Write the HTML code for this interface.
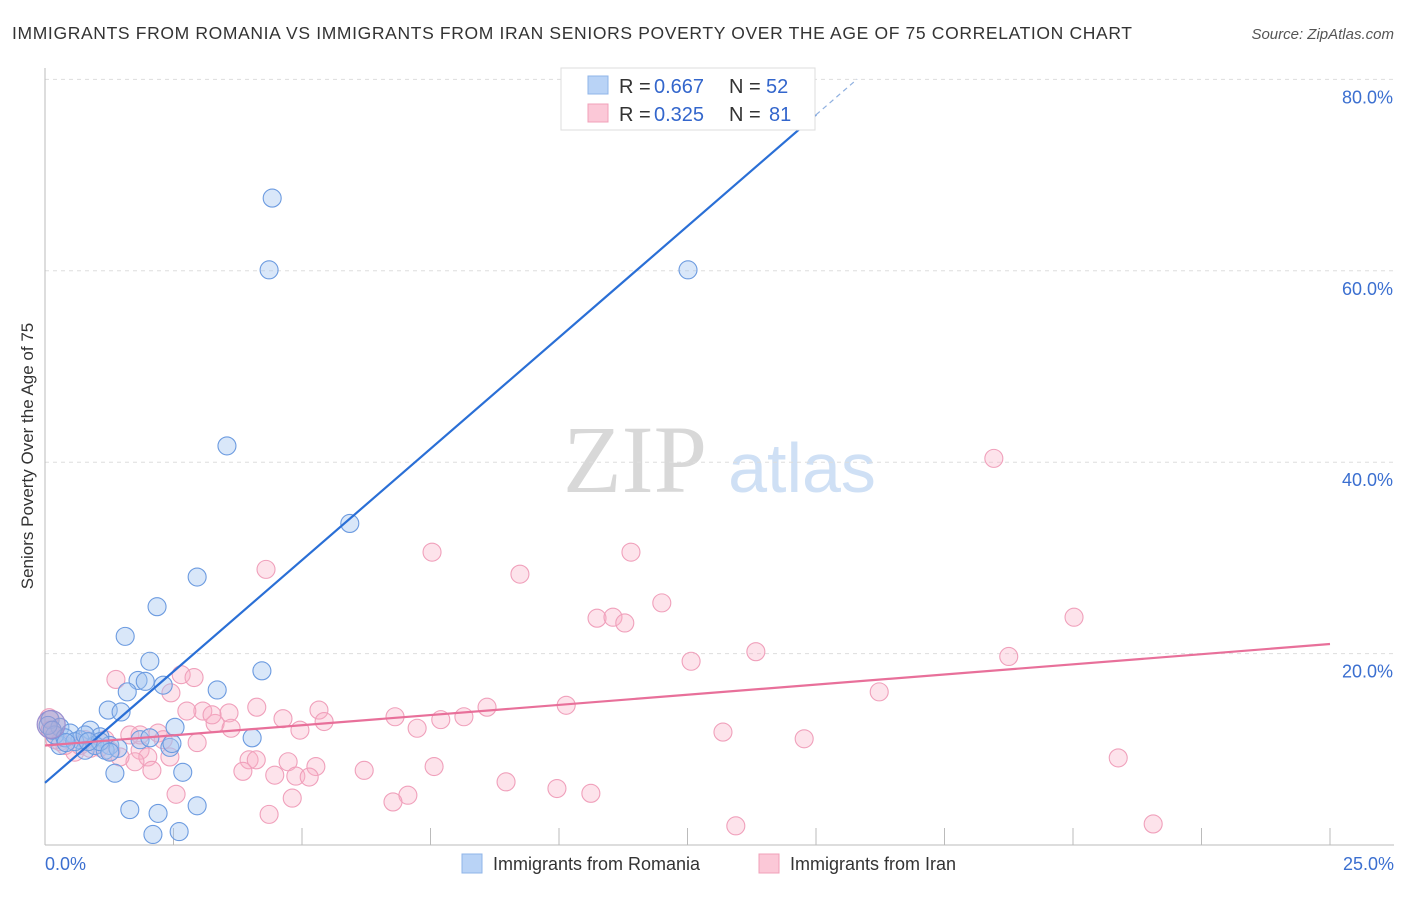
<!DOCTYPE html>
<html><head><meta charset="utf-8"><style>
body{margin:0;background:#fff;font-family:"Liberation Sans",sans-serif}
</style></head><body>
<svg width="1406" height="892" xmlns="http://www.w3.org/2000/svg" font-family="Liberation Sans, sans-serif">
<text x="12" y="39" font-size="17.5" fill="#333" textLength="1120" lengthAdjust="spacing">IMMIGRANTS FROM ROMANIA VS IMMIGRANTS FROM IRAN SENIORS POVERTY OVER THE AGE OF 75 CORRELATION CHART</text>
<text x="1394" y="39" font-size="15" fill="#555" font-style="italic" text-anchor="end">Source: ZipAtlas.com</text>
<text x="635" y="492" font-size="96" fill="#d8d8d8" font-family="Liberation Serif, serif" text-anchor="middle">ZIP</text>
<text x="802" y="492" font-size="70" fill="#cfe0f5" text-anchor="middle">atlas</text>
<g id="grid"></g><g id="axes"></g><g id="pts"></g><g id="lines"></g>
<text transform="translate(33,456) rotate(-90)" font-size="17" fill="#333" text-anchor="middle">Seniors Poverty Over the Age of 75</text>
<g>
<rect x="561" y="68" width="254" height="62" fill="#fff" stroke="#ddd"/>
<rect x="588" y="76" width="20" height="18" fill="#b9d3f6" stroke="#8fb5e8"/>
<rect x="588" y="104" width="20" height="18" fill="#fbc8d7" stroke="#f0a0b8"/>
<text y="93" font-size="20" fill="#333"><tspan x="619">R =</tspan><tspan x="654" fill="#3366cc">0.667</tspan><tspan x="729">N =</tspan><tspan x="766" fill="#3366cc">52</tspan></text>
<text y="121" font-size="20" fill="#333"><tspan x="619">R =</tspan><tspan x="654" fill="#3366cc">0.325</tspan><tspan x="729">N =</tspan><tspan x="769" fill="#3366cc">81</tspan></text>
</g>
<g>
<rect x="462" y="854" width="20" height="19" fill="#b9d3f6" stroke="#8fb5e8"/>
<text x="493" y="870" font-size="18" fill="#333">Immigrants from Romania</text>
<rect x="759" y="854" width="20" height="19" fill="#fbc8d7" stroke="#f0a0b8"/>
<text x="790" y="870" font-size="18" fill="#333">Immigrants from Iran</text>
</g>
</svg>
<script>
const blueX=[4.42,4.36,12.51,3.54,5.93,2.96,2.18,1.56,2.04,4.22,1.81,1.95,2.30,3.35,1.60,1.23,1.48,2.53,4.03,0.10,0.29,0.49,0.88,1.07,0.68,0.29,1.26,2.43,2.47,1.36,2.68,1.65,2.20,2.96,2.10,2.61,0.78,0.97,1.17,0.19,0.06,0.39,0.58,0.78,1.42,1.07,1.26,1.85,2.04,0.41,0.14,0.84];
const blueY=[67.6,60.1,60.1,41.7,33.6,28.0,24.9,21.8,19.2,18.2,17.2,17.1,16.7,16.2,16.0,14.1,13.9,12.3,11.2,13.1,12.3,11.7,12.0,11.3,11.0,10.4,10.4,10.2,10.6,7.5,7.6,3.7,3.3,4.1,1.1,1.4,9.9,10.4,9.9,11.5,12.5,11.2,10.8,11.5,10.1,10.8,9.7,11.0,11.2,10.7,12.0,10.8];
const pinkX=[18.46,7.53,11.40,9.24,4.30,12.00,10.74,11.05,11.28,20.02,12.57,13.83,18.75,1.38,2.65,2.90,2.45,16.23,4.12,3.07,3.58,5.33,8.60,10.14,2.76,3.31,4.63,5.43,6.81,7.70,8.15,4.96,3.62,7.24,13.19,14.77,1.65,2.20,2.96,2.30,1.28,1.85,1.07,0.88,0.58,0.29,0.08,20.88,3.97,4.73,5.27,4.11,2.00,1.75,3.85,4.47,4.88,5.14,6.21,7.57,8.97,9.96,10.62,7.06,6.77,4.81,2.55,4.36,13.44,21.56,2.08,0.68,0.39,0.19,1.17,1.46,3.25,1.85,2.43,0.78,0.10];
const pinkY=[40.4,30.6,30.6,28.3,28.8,25.3,23.7,23.8,23.2,23.8,19.2,20.2,19.7,17.3,17.8,17.5,15.9,16.0,14.4,14.0,13.8,14.1,14.4,14.6,14.0,12.7,13.2,12.9,13.4,13.1,13.4,12.0,12.2,12.2,11.8,11.1,11.5,11.7,10.7,11.0,9.8,9.9,10.2,10.1,9.7,10.8,13.3,9.1,8.9,8.7,8.2,8.9,9.2,8.7,7.7,7.3,7.2,7.1,7.8,8.2,6.6,5.9,5.4,5.2,4.5,4.9,5.3,3.2,2.0,2.2,7.8,10.4,10.4,11.0,11.0,9.2,13.6,11.5,9.2,11.0,12.0];
const yTicks=[20,40,60,80];
const yTickLabels=["20.0%","40.0%","60.0%","80.0%"];
const blueFit=[6.5,76.3];   // y at x=0 and x=15
const pinkFit=[10.4,21.0];  // y at x=0 and x=25
const NS="http://www.w3.org/2000/svg";
const sx=v=>45+v*51.4, sy=v=>845-v*9.57;
function mk(tag,attrs,parent){const e=document.createElementNS(NS,tag);for(const k in attrs)e.setAttribute(k,attrs[k]);document.getElementById(parent).appendChild(e);return e;}
yTicks.forEach((t,i)=>{
 const g=mk('line',{x1:45,x2:1394,y1:sy(t),y2:sy(t),stroke:'#ddd','stroke-dasharray':'4,4'},'grid');
 
 
 const tx=mk('text',{x:1393,y:sy(t)+24,'font-size':18,fill:'#3b6fd0','text-anchor':'end'},'grid');
 tx.textContent=yTickLabels[i];
 
 
});
const ax=mk('line',{x1:45,x2:1394,y1:845,y2:845,stroke:'#bbb'},'axes');


const ay=mk('line',{x1:45,x2:45,y1:68,y2:845,stroke:'#bbb'},'axes');


for(let i=1;i<=10;i++){const t=mk('line',{x1:sx(i*2.5),x2:sx(i*2.5),y1:828,y2:845,stroke:'#bbb'},'axes');
 
 }
[['0.0%',45,'start'],['25.0%',1394,'end']].forEach(([s,x,a])=>{const t=mk('text',{x:x,y:870,'font-size':18,fill:'#3b6fd0','text-anchor':a},'axes');t.textContent=s;
 
 });
pinkX.forEach((x,i)=>{const c=mk('circle',{cx:sx(x),cy:sy(pinkY[i]),r:9,fill:'rgba(248,175,198,0.35)',stroke:'#f0a0bb','stroke-width':1.1},'pts');
 
 });
blueX.forEach((x,i)=>{const c=mk('circle',{cx:sx(x),cy:sy(blueY[i]),r:9,fill:'rgba(160,196,240,0.4)',stroke:'#6c9be0','stroke-width':1.1},'pts');
 
 });
const big=mk('circle',{cx:sx(0.12),cy:sy(12.6),r:14,fill:'rgba(170,150,200,0.45)',stroke:'#9a8fd0','stroke-width':1.2},'pts');


const bl=mk('line',{x1:sx(0),y1:sy(blueFit[0]),x2:sx(15),y2:sy(blueFit[1]),stroke:'#2a6fd6','stroke-width':2.2},'lines');


const slope=(blueFit[1]-blueFit[0])/15;
const bd=mk('line',{x1:sx(15),y1:sy(blueFit[1]),x2:sx(15.8),y2:sy(blueFit[1]+slope*0.8),stroke:'#8fb0e0','stroke-width':1.2,'stroke-dasharray':'5,4'},'lines');


const pl=mk('line',{x1:sx(0),y1:sy(pinkFit[0]),x2:sx(25),y2:sy(pinkFit[1]),stroke:'#e8709a','stroke-width':2.2},'lines');


</script>
</body></html>
